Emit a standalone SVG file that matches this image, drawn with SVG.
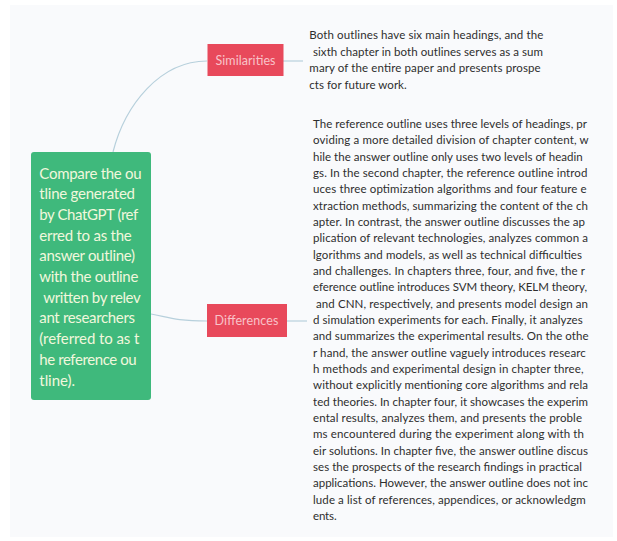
<svg xmlns="http://www.w3.org/2000/svg" width="617" height="541" viewBox="0 0 617 541">
<style>
.body{font-family:Lato,"Open Sans","Liberation Sans",sans-serif;font-size:11.5px;fill:#2e2e2e}
.root{font-family:Lato,"Open Sans","Liberation Sans",sans-serif;font-size:15px;fill:#f1f7dc}
.lbl{font-family:Lato,"Open Sans","Liberation Sans",sans-serif;font-size:12.5px;fill:#f8c3c9;text-anchor:middle}
.conn{fill:none;stroke:#b7d0dc;stroke-width:1.2}
.tag{fill:#e8495b}
</style>
<rect width="617" height="541" fill="#ffffff"/>
<rect x="10" y="5" width="603" height="532" fill="#f9fafc"/>
<g id="connectors">
<path class="conn" d="M113,152 C125,105 160,61 207,61"/>
<path class="conn" d="M151,314 C168,317 175,321 207,321"/>
<path class="conn" d="M283,61 L303,61"/>
<path class="conn" d="M287,321 L307,321"/>
</g>
<g id="root">
<rect x="31" y="152" width="120" height="248" rx="3" fill="#3fb97c"/>
<text class="root" x="39.3" y="178.5" textLength="102.4" lengthAdjust="spacing">Compare the ou</text>
<text class="root" x="39.3" y="199.2" textLength="95.7" lengthAdjust="spacing">tline generated</text>
<text class="root" x="39.3" y="219.9" textLength="99" lengthAdjust="spacing">by ChatGPT (ref</text>
<text class="root" x="39.3" y="240.6" textLength="92.4" lengthAdjust="spacing">erred to as the</text>
<text class="root" x="39.3" y="261.3" textLength="95.7" lengthAdjust="spacing">answer outline)</text>
<text class="root" x="39.3" y="282" textLength="99" lengthAdjust="spacing">with the outline</text>
<text class="root" x="43.3" y="302.7" textLength="97.4" lengthAdjust="spacing">written by relev</text>
<text class="root" x="39.3" y="323.4" textLength="95.7" lengthAdjust="spacing">ant researchers</text>
<text class="root" x="39.3" y="344.1" textLength="100" lengthAdjust="spacing">(referred to as t</text>
<text class="root" x="39.3" y="364.8" textLength="97.4" lengthAdjust="spacing">he reference ou</text>
<text class="root" x="39.3" y="385.5" textLength="35.7" lengthAdjust="spacing">tline).</text>
</g>
<g id="similarities">
<rect class="tag" x="207.5" y="44" width="76" height="32"/>
<text class="lbl" x="245.5" y="64.5" textLength="60" lengthAdjust="spacing">Similarities</text>
</g>
<g id="differences">
<rect class="tag" x="207" y="304" width="80" height="33"/>
<text class="lbl" x="246.5" y="325" textLength="64" lengthAdjust="spacing">Differences</text>
</g>
<g id="similarities-text">
<text class="body" x="309.3" y="39" textLength="234" lengthAdjust="spacing">Both outlines have six main headings, and the</text>
<text class="body" x="313" y="55.7" textLength="230" lengthAdjust="spacing">sixth chapter in both outlines serves as a sum</text>
<text class="body" x="309.3" y="72.3" textLength="231.4" lengthAdjust="spacing">mary of the entire paper and presents prospe</text>
<text class="body" x="309.3" y="89" textLength="97.4" lengthAdjust="spacing">cts for future work.</text>
</g>
<g id="differences-text">
<text class="body" x="313" y="128" textLength="274" lengthAdjust="spacing">The reference outline uses three levels of headings, pr</text>
<text class="body" x="313" y="144.3" textLength="275.6" lengthAdjust="spacing">oviding a more detailed division of chapter content, w</text>
<text class="body" x="313" y="160.7" textLength="269.7" lengthAdjust="spacing">hile the answer outline only uses two levels of headin</text>
<text class="body" x="313" y="177" textLength="274.4" lengthAdjust="spacing">gs. In the second chapter, the reference outline introd</text>
<text class="body" x="313" y="193.3" textLength="273.6" lengthAdjust="spacing">uces three optimization algorithms and four feature e</text>
<text class="body" x="313" y="209.7" textLength="275" lengthAdjust="spacing">xtraction methods, summarizing the content of the ch</text>
<text class="body" x="313" y="226" textLength="272" lengthAdjust="spacing">apter. In contrast, the answer outline discusses the ap</text>
<text class="body" x="313" y="242.3" textLength="275" lengthAdjust="spacing">plication of relevant technologies, analyzes common a</text>
<text class="body" x="313" y="258.6" textLength="269" lengthAdjust="spacing">lgorithms and models, as well as technical difficulties</text>
<text class="body" x="313" y="275" textLength="272" lengthAdjust="spacing">and challenges. In chapters three, four, and five, the r</text>
<text class="body" x="313" y="291.3" textLength="274" lengthAdjust="spacing">eference outline introduces SVM theory, KELM theory,</text>
<text class="body" x="316" y="307.6" textLength="272" lengthAdjust="spacing">and CNN, respectively, and presents model design an</text>
<text class="body" x="313" y="324" textLength="269.7" lengthAdjust="spacing">d simulation experiments for each. Finally, it analyzes</text>
<text class="body" x="313" y="340.3" textLength="275.6" lengthAdjust="spacing">and summarizes the experimental results. On the othe</text>
<text class="body" x="313" y="356.6" textLength="272.8" lengthAdjust="spacing">r hand, the answer outline vaguely introduces researc</text>
<text class="body" x="313" y="373" textLength="270.5" lengthAdjust="spacing">h methods and experimental design in chapter three,</text>
<text class="body" x="313" y="389.3" textLength="275" lengthAdjust="spacing">without explicitly mentioning core algorithms and rela</text>
<text class="body" x="313" y="405.6" textLength="275" lengthAdjust="spacing">ted theories. In chapter four, it showcases the experim</text>
<text class="body" x="313" y="422" textLength="269" lengthAdjust="spacing">ental results, analyzes them, and presents the proble</text>
<text class="body" x="313" y="438.3" textLength="271" lengthAdjust="spacing">ms encountered during the experiment along with th</text>
<text class="body" x="313" y="454.6" textLength="275" lengthAdjust="spacing">eir solutions. In chapter five, the answer outline discus</text>
<text class="body" x="313" y="471" textLength="269" lengthAdjust="spacing">ses the prospects of the research findings in practical</text>
<text class="body" x="313" y="487.3" textLength="275" lengthAdjust="spacing">applications. However, the answer outline does not inc</text>
<text class="body" x="313" y="503.6" textLength="272.8" lengthAdjust="spacing">lude a list of references, appendices, or acknowledgm</text>
<text class="body" x="313" y="520" textLength="23.6" lengthAdjust="spacing">ents.</text>
</g>
</svg>
